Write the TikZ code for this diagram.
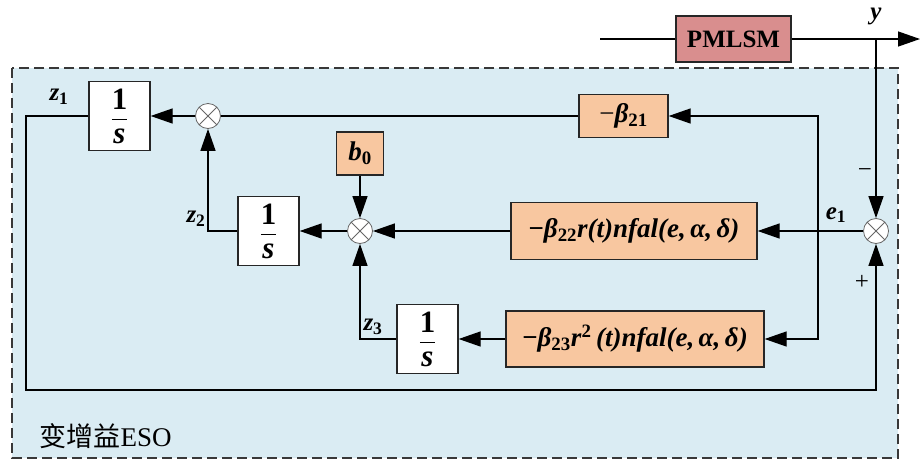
\documentclass[tikz,border=0pt]{standalone}
\usepackage{amsmath}
\usepackage{fontspec}
\setmainfont{Liberation Serif}
\newfontfamily\cjk{Noto Sans CJK SC}
\usetikzlibrary{arrows.meta,calc}
\definecolor{esoblue}{HTML}{DAECF3}
\definecolor{gainfill}{HTML}{F8C7A0}
\definecolor{plantfill}{HTML}{D98E8E}
\newcommand{\vb}[1]{\textbf{\textit{#1}}}
\newcommand{\sbs}[1]{\textsubscript{\textbf{\upshape #1}}}
\newcommand{\intfrac}{$\dfrac{\text{\bfseries 1}}{\text{\bfseries\itshape s}}$}

\begin{document}
\begin{tikzpicture}[x=1pt,y=-1pt,
    font=\fontsize{25}{30}\selectfont,
    wire/.style={line width=1.3pt},
    sig/.style={wire,-{Triangle[length=22pt,width=15pt]}},
    block/.style={draw=black!85,line width=1.3pt,inner sep=0pt},
    integ/.style={block,fill=white,minimum width=61pt,minimum height=69pt,
      font=\fontsize{31}{36}\selectfont},
    gain/.style={block,fill=gainfill,minimum height=43pt,
      font=\fontsize{27}{30}\selectfont},
    plant/.style={block,fill=plantfill,minimum width=115pt,minimum height=46pt},
    sumnode/.style={circle,draw=black!60,fill=white,line width=0.8pt,
      minimum size=25pt,inner sep=0pt,
      path picture={\draw[black!60,line width=0.8pt]
        (path picture bounding box.north west) -- (path picture bounding box.south east)
        (path picture bounding box.north east) -- (path picture bounding box.south west);}}]
    \useasboundingbox (0,0) rectangle (920,461);
    % observer region
    \draw[fill=esoblue,draw=black!78,line width=2pt,dash pattern=on 10pt off 5pt]
      (12,68) rectangle (898,458);
    \node[anchor=west,font=\fontsize{27}{30}\selectfont] (esoname) at (36,436)
      {{\cjk 变增益}ESO};
    % plant
    \coordinate (u) at (600,39);
    \coordinate (yout) at (920,39);
    \coordinate (ytap) at (876,39);
    \node[plant] (pmlsm) at (733.5,39) {\bfseries PMLSM};
    \node (ylab) at (876,16) {\vb{y}};
    % error summing point
    \node[sumnode] (se) at (876,231) {};
    \coordinate (tap) at (818,231);
    \coordinate (loop) at (26,390);
    % first channel
    \node[integ] (int1) at (119.5,116) {\intfrac};
    \node[sumnode] (sum1) at (208,116) {};
    \node[gain,minimum width=89pt] (beta1) at (623.5,116) {−\vb{β}\sbs{21}};
    % second channel
    \node[gain,minimum width=47pt] (bzero) at (360,153.5) {\vb{b}\sbs{0}};
    \node[sumnode] (sum2) at (360,231) {};
    \node[integ] (int2) at (268.5,231) {\intfrac};
    \node[gain,minimum width=246pt,minimum height=57pt] (beta2) at (634,231)
      {\bfseries −\vb{β}\sbs{22}\vb{r(t)nfal(e,\,α,\,δ)}};
    % third channel
    \node[integ] (int3) at (427.5,339) {\intfrac};
    \node[gain,minimum width=258pt,minimum height=56pt] (beta3) at (635,339)
      {\bfseries −\vb{β}\sbs{23}\vb{r}\textsuperscript{\bfseries 2}\,\vb{(t)nfal(e,\,α,\,δ)}};
    % labels
    \node (z1) at (59,97) {\vb{z}\sbs{1}};
    \node (z2) at (196,219) {\vb{z}\sbs{2}};
    \node (z3) at (373,327) {\vb{z}\sbs{3}};
    \node (e1) at (836,215) {\vb{e}\sbs{1}};
    \node (minus) at (865,173) {−};
    \node (plus) at (862,282) {+};
    % connectors
    \draw[wire] (u) -- (pmlsm);
    \draw[sig] (pmlsm) -- (yout);
    \draw[sig] (ytap) -- (se);
    \draw[wire] (se) -- (tap);
    \draw[sig] (tap) -- (beta2);
    \draw[sig] (tap) |- (beta1);
    \draw[sig] (tap) |- (beta3);
    \draw[wire] (beta1) -- (sum1);
    \draw[sig] (sum1) -- (int1);
    \draw[sig] (int1) -| (loop) -| (se);
    \draw[sig] (beta2) -- (sum2);
    \draw[sig] (bzero) -- (sum2);
    \draw[sig] (sum2) -- (int2);
    \draw[sig] (int2) -| (sum1);
    \draw[sig] (beta3) -- (int3);
    \draw[sig] (int3) -| (sum2);
\end{tikzpicture}
\end{document}
